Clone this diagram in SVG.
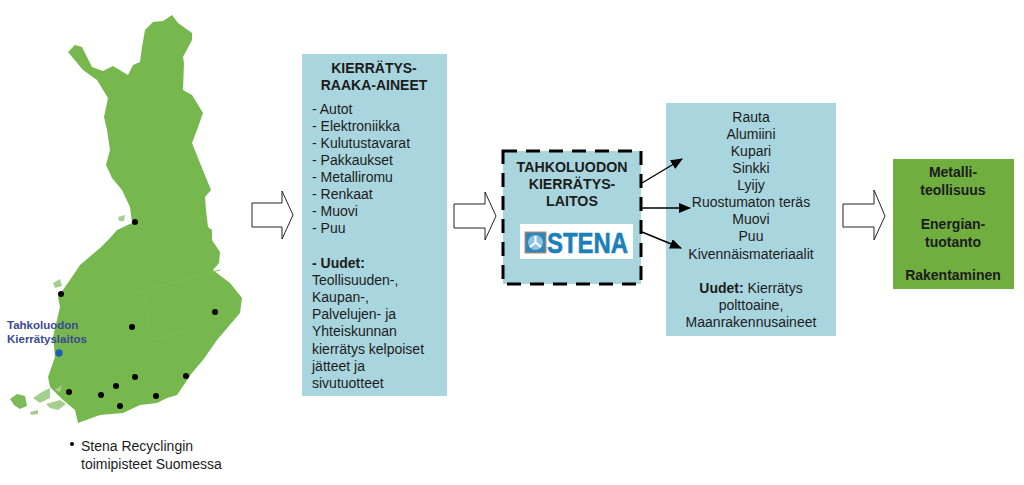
<svg xmlns="http://www.w3.org/2000/svg" width="1024" height="485" viewBox="0 0 1024 485">
<defs>
<marker id="ah" markerUnits="userSpaceOnUse" markerWidth="12" markerHeight="10" refX="11" refY="5" orient="auto"><path d="M0 0L12 5L0 10Z" fill="#000"/></marker>
<filter id="soft" x="-5%" y="-5%" width="110%" height="110%"><feGaussianBlur stdDeviation="0.5"/></filter>
</defs>
<style>
text{font-family:"Liberation Sans",Arial,sans-serif;font-size:14px;fill:#1c1c1c}
.c{text-anchor:middle}
.b{font-weight:bold}
.box{fill:#a9d5de}
.lbl{font-size:11.5px;font-weight:bold;fill:#3b4a90}
.arrow{fill:#fff;stroke:#222;stroke-width:1}
.lnk{stroke:#000;stroke-width:1.4;fill:none;marker-end:url(#ah)}
.prov{fill:none;stroke:#7ebc58;stroke-width:1}
</style>
<rect width="1024" height="485" fill="#fff"/>
<g id="map">
<g filter="url(#soft)">
<path fill="#76b84e" d="M172 15L178 23L192 33L192 40L183 57L184 63L183 90L192 95L203 113L197 130L192 143L200 163L211 190L205 197L206 210L208 227L212 230L212 240L220 252L219 263L213 270L230 283L242 298L240 313L217 340L203 360L192 373L177 395L167 398L157 403L140 405L123 413L100 415L78 423L75 410L63 400L50 387L48 377L55 357L53 337L60 307L58 297L72 277L80 265L100 248L110 238L117 230L132 223L130 207L122 190L112 178L106 165L110 150L107 130L104 117L108 98L97 80L83 70L68 52L75 45L82 47L92 67L103 71L113 66L128 75L133 65L140 62L142 47L145 30L153 22L163 21Z"/>
<path fill="#7dbb58" d="M10 399L17 394L25 396L27 406L20 409L14 405Z"/>
<path fill="#a5cf8e" d="M33 398L42 392L50 388L50 398L40 403ZM46 404L60 400L66 404L58 410L50 408ZM30 412L38 410L38 414L31 415ZM55 390L62 385L60 392ZM53 283L60 279L62 286L55 288ZM118 217L125 215L124 221L119 221Z"/>
</g>
<path class="prov" d="M147 240L200 197M120 300L145 290L220 270M145 290L150 340L120 375M190 330L150 340"/>
<g fill="#000">
<circle cx="135" cy="222" r="3"/><circle cx="61" cy="294" r="3"/><circle cx="215" cy="312" r="3"/><circle cx="132" cy="327" r="3"/>
<circle cx="186" cy="376" r="3"/><circle cx="135" cy="377" r="3"/><circle cx="116" cy="386" r="3"/><circle cx="69" cy="392" r="3"/>
<circle cx="101" cy="395" r="3"/><circle cx="156" cy="396" r="3"/><circle cx="120" cy="406" r="3"/>
</g>
<circle cx="59" cy="353" r="3.7" fill="#1f5fb0"/>
<text class="lbl" x="7" y="329">Tahkoluodon</text>
<text class="lbl" x="7" y="343">Kierrätyslaitos</text>
<circle cx="72" cy="444" r="2" fill="#000"/>
<text x="81" y="451">Stena Recyclingin</text>
<text x="81" y="469">toimipisteet Suomessa</text>
</g>
<g id="raw-materials">
<rect class="box" x="302" y="54" width="145" height="342"/>
<text class="c b" x="374" y="73">KIERRÄTYS-</text>
<text class="c b" x="374" y="90">RAAKA-AINEET</text>
<text x="312" y="114">- Autot</text>
<text x="312" y="131">- Elektroniikka</text>
<text x="312" y="148">- Kulutustavarat</text>
<text x="312" y="165">- Pakkaukset</text>
<text x="312" y="182">- Metalliromu</text>
<text x="312" y="199">- Renkaat</text>
<text x="312" y="216">- Muovi</text>
<text x="312" y="233">- Puu</text>
<text x="312" y="268" class="b">- Uudet:</text>
<text x="312" y="285">Teollisuuden-,</text>
<text x="312" y="302">Kaupan-,</text>
<text x="312" y="319">Palvelujen- ja</text>
<text x="312" y="336">Yhteiskunnan</text>
<text x="312" y="354">kierrätys kelpoiset</text>
<text x="312" y="371">jätteet ja</text>
<text x="312" y="388">sivutuotteet</text>
</g>
<g id="plant">
<rect class="box" x="503" y="151" width="138" height="133"/>
<rect x="503" y="151" width="138" height="133" fill="none" stroke="#000" stroke-width="3" stroke-dasharray="14 9"/>
<text class="c b" x="572" y="172" style="font-size:14.2px">TAHKOLUODON</text>
<text class="c b" x="572" y="189" style="font-size:14.2px">KIERRÄTYS-</text>
<text class="c b" x="572" y="206" style="font-size:14.2px">LAITOS</text>
<rect x="520" y="224" width="113" height="35" fill="#fff"/>
<rect x="525" y="232" width="21" height="21" fill="#2f86bb" stroke="#c98a60"/>
<circle cx="535.500" cy="242.500" r="7.500" fill="#8cc3e0"/>
<path d="M535.500 236V242.500M535.500 242.500L530 247M535.500 242.500L541 247" stroke="#fff" stroke-width="2" fill="none"/>
<text x="547" y="253" style="font-size:29px;font-weight:bold;fill:#1c80b8;stroke:#1c80b8;stroke-width:.6" textLength="81" lengthAdjust="spacingAndGlyphs">STENA</text>
</g>
<g id="products">
<rect class="box" x="666" y="103" width="170" height="233"/>
<g class="c">
<text x="751" y="122">Rauta</text>
<text x="751" y="139">Alumiini</text>
<text x="751" y="156">Kupari</text>
<text x="751" y="173">Sinkki</text>
<text x="751" y="190">Lyijy</text>
<text x="751" y="207">Ruostumaton teräs</text>
<text x="751" y="224">Muovi</text>
<text x="751" y="241">Puu</text>
<text x="751" y="259">Kivennäismateriaalit</text>
<text x="751" y="293"><tspan class="b">Uudet:</tspan> Kierrätys</text>
<text x="751" y="310">polttoaine,</text>
<text x="751" y="327">Maanrakennusaineet</text>
</g>
</g>
<g id="industries">
<rect x="893" y="159" width="121" height="130" fill="#70ae40"/>
<g class="c b">
<text x="953" y="177">Metalli-</text>
<text x="953" y="195">teollisuus</text>
<text x="953" y="229">Energian-</text>
<text x="953" y="247">tuotanto</text>
<text x="953" y="280">Rakentaminen</text>
</g>
</g>
<g id="connectors">
<path class="arrow" d="M252 203H282V191L293 215L282 239V227H252Z"/>
<path class="arrow" d="M454 204H485V192L496 216L485 240V228H454Z"/>
<path class="arrow" d="M843 204H874V190L885 216L874 240V227H843Z"/>
<path class="lnk" d="M642 183L682 159"/>
<path class="lnk" d="M642 208H690"/>
<path class="lnk" d="M642 232L681 248"/>
</g>
</svg>
